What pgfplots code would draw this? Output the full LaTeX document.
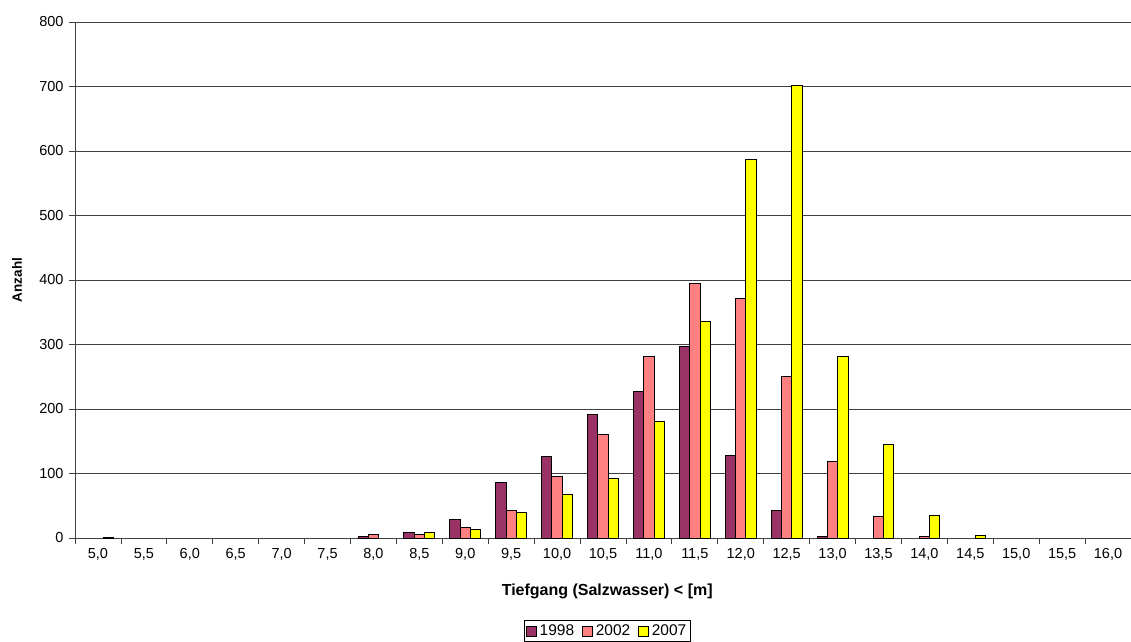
\documentclass[border=0pt]{standalone}
\usepackage{fontspec}
\setmainfont{Liberation Sans}
\usepackage{pgfplots}
\pgfplotsset{compat=1.18}
\definecolor{c1998}{HTML}{993366}
\definecolor{c2002}{HTML}{FF8080}
\definecolor{c2007}{HTML}{FFFF00}
\begin{document}
\begin{tikzpicture}[x=1pt,y=1pt]
\path[use as bounding box] (0,0) rectangle (1131,641);
\begin{axis}[
  at={(75pt,103pt)}, anchor=south west,
  scale only axis, width=1056pt, height=516pt,
  xmin=-0.5, xmax=22.5, ymin=0, ymax=800,
  ybar=0pt, bar width=10.3pt,
  axis x line*=bottom, axis y line*=left,
  axis line style={black!75, line width=0.8pt},
  xtick={0,...,22},
  xticklabels={{5,0},{5,5},{6,0},{6,5},{7,0},{7,5},{8,0},{8,5},{9,0},{9,5},{10,0},{10,5},{11,0},{11,5},{12,0},{12,5},{13,0},{13,5},{14,0},{14,5},{15,0},{15,5},{16,0}},
  major x tick style={draw=none},
  minor xtick={-0.5,0.5,...,22.5},
  minor tick length=6pt, major tick length=6pt,
  tick align=outside,
  ytick={0,100,...,800},
  y tick style={black!75, line width=0.8pt},
  minor x tick style={black!75, line width=0.8pt},
  ymajorgrids, grid style={black!75, line width=0.7pt},
  /pgf/number format/assume math mode=true,
  tick label style={font=\fontsize{14.5}{16}\selectfont},
  xticklabel style={yshift=-1pt},
  yticklabel style={xshift=-2pt},
  xlabel={\bfseries Tiefgang (Salzwasser) < [m]},
  ylabel={\bfseries Anzahl},
  xlabel style={font=\fontsize{16}{18}\selectfont, at={(axis description cs:0.504,-0.1035)}, anchor=center},
  ylabel style={font=\fontsize{13.5}{16}\selectfont, at={(axis description cs:-0.055,0.5)}, anchor=center},
  legend columns=3,
  legend style={at={(axis description cs:0.504,-0.18)}, anchor=center,
    draw=black, line width=0.6pt, inner xsep=2pt, inner ysep=2pt,
    font=\fontsize{15.5}{17}\selectfont,
    /tikz/every even column/.append style={column sep=6pt},
    /tikz/every odd column/.append style={column sep=1pt}},
  legend image code/.code={\draw[#1, line width=0.6pt] (0pt,-5pt) rectangle (10pt,5pt);},
]
\addplot[fill=c1998, draw=black, line width=0.9pt] coordinates {
 (6,2) (7,9) (8,28) (9,86) (10,127) (11,192) (12,227) (13,297) (14,128) (15,43) (16,2)};
\addlegendentry{1998}
\addplot[fill=c2002, draw=black, line width=0.9pt] coordinates {
 (6,5) (7,5) (8,17) (9,42) (10,95) (11,161) (12,281) (13,395) (14,372) (15,250) (16,119) (17,33) (18,3)};
\addlegendentry{2002}
\addplot[fill=c2007, draw=black, line width=0.9pt] coordinates {
 (0,1) (7,8) (8,13) (9,40) (10,67) (11,93) (12,181) (13,336) (14,587) (15,702) (16,281) (17,145) (18,35) (19,4)};
\addlegendentry{2007}
\end{axis}
\end{tikzpicture}
\end{document}
